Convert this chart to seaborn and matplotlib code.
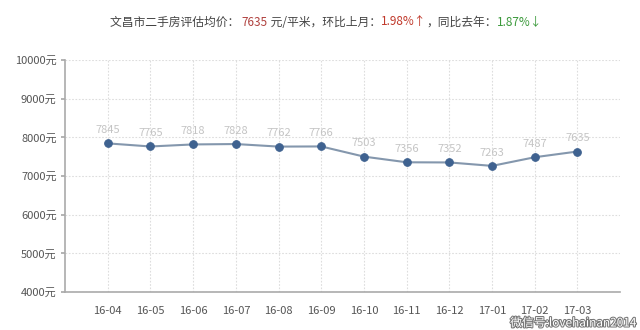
import matplotlib
matplotlib.use("Agg")
import matplotlib.pyplot as plt
import matplotlib.patheffects as pe
import seaborn as sns
import pandas as pd

months = ["16-04", "16-05", "16-06", "16-07", "16-08", "16-09",
          "16-10", "16-11", "16-12", "17-01", "17-02", "17-03"]
prices = [7845, 7765, 7818, 7828, 7762, 7766, 7503, 7356, 7352, 7263, 7487, 7635]
yticks = [4000, 5000, 6000, 7000, 8000, 9000, 10000]
title_parts = [("文昌市二手房评估均价： ", "#444444"), ("7635", "#b0413e"),
               (" 元/平米，环比上月：", "#444444"), ("1.98%↑", "#c0392b"),
               ("，同比去年：", "#444444"), ("1.87%↓", "#3c9a3c")]

sns.set_theme(style="white")
plt.rcParams["font.family"] = ["Noto Sans CJK SC", "DejaVu Sans"]

df = pd.DataFrame({"x": range(len(months)), "price": prices})

fig = plt.figure(figsize=(6.4, 3.3), dpi=100)
ax = fig.add_axes([0.1016, 0.115, 0.8674, 0.703])

sns.lineplot(data=df, x="x", y="price", ax=ax, color="#8497ad", linewidth=1.5,
             marker="o", markersize=5.5, markerfacecolor="#3f6290",
             markeredgecolor="#3f6290", zorder=3)

for i, v in enumerate(prices):
    ax.annotate(str(v), (i, v), xytext=(0, 6), textcoords="offset points",
                ha="center", va="bottom", fontsize=8, color="#c4c4c4")

ax.set_xlim(-1, len(months))
ax.set_ylim(4000, 10000)
ax.set_xticks(range(len(months)))
ax.set_xticklabels(months, fontsize=8, color="#555555")
ax.set_yticks(yticks)
ax.set_yticklabels([f"{t}元" for t in yticks], fontsize=8, color="#555555")
ax.set_xlabel("")
ax.set_ylabel("")
ax.grid(True, color="#dddddd", linestyle=(0, (1.5, 1.5)), linewidth=0.8)
for s in ["top", "right"]:
    ax.spines[s].set_visible(False)
for s in ["left", "bottom"]:
    ax.spines[s].set_color("#aaaaaa")
    ax.spines[s].set_linewidth(1.2)
ax.tick_params(axis="y", which="both", left=True, length=3, color="#aaaaaa", pad=3)
ax.tick_params(axis="x", which="both", bottom=False, pad=4)

# multi-coloured title
x0 = 110 / 640
t = fig.text(x0, 1 - 22 / 330, title_parts[0][0], color=title_parts[0][1],
             fontsize=8.5, va="center", ha="left")
prev = t
for txt, col in title_parts[1:]:
    prev = ax.annotate(txt, xy=(1, 0.5), xycoords=prev, xytext=(0, 0),
                       textcoords="offset points", va="center", ha="left",
                       fontsize=8.5, color=col, annotation_clip=False)

# watermark
fig.text(0.995, 1 - 323 / 330, "微信号:lovehainan2014", ha="right", va="center",
         fontsize=8.5, color="white",
         path_effects=[pe.withStroke(linewidth=1.5, foreground="#777777")])

fig.savefig("out.png", dpi=100, facecolor="white")
